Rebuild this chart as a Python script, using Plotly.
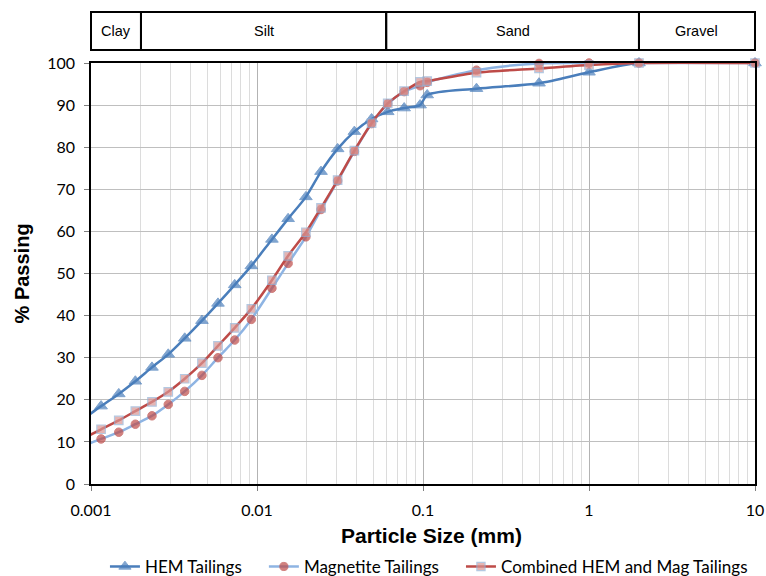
import math
import plotly.graph_objects as go

# ---------------- data ----------------
size_mm = [0.00091, 0.00115, 0.00147, 0.00185, 0.00233, 0.00292, 0.00367, 0.00466,
           0.00582, 0.00734, 0.00924, 0.0123, 0.0154, 0.0197, 0.0243, 0.0306,
           0.0386, 0.049, 0.0613, 0.077, 0.096, 0.106, 0.21, 0.5, 1.0, 2.0, 10.0]

hem_tailings = [15.6, 18.5, 21.4, 24.4, 27.7, 30.8, 34.6, 38.8, 42.9, 47.3, 51.8,
                58.1, 63.0, 68.2, 74.2, 79.6, 83.7, 86.7, 88.4, 89.3, 90.0, 92.4,
                93.9, 95.2, 97.8, 100, 100]

magnetite_tailings = [9.1, 10.7, 12.3, 14.2, 16.2, 18.9, 22.0, 25.8, 30.0, 34.2, 39.1,
                      46.5, 52.4, 58.7, 65.2, 72.0, 79.0, 85.6, 90.3, 93.2, 94.6, 95.4,
                      98.3, 99.9, 100, 100, 100]

combined_tailings = [10.9, 13.0, 15.1, 17.3, 19.5, 21.9, 25.0, 28.7, 32.8, 37.1, 41.6,
                     48.4, 54.2, 59.8, 65.6, 72.2, 79.2, 85.7, 90.4, 93.3, 95.5, 95.7,
                     97.7, 98.7, 99.5, 100, 100]

series_names = ["HEM Tailings", "Magnetite Tailings", "Combined HEM and Mag Tailings"]

band_edges = [0.001, 0.002, 0.06, 2.0, 10.0]
band_labels = ["Clay", "Silt", "Sand", "Gravel"]

x_tick_vals = [0.001, 0.01, 0.1, 1, 10]
x_tick_text = ["0.001", "0.01", "0.1", "1", "10"]
y_tick_vals = list(range(0, 101, 10))

X_MIN, X_MAX = 0.001, 10.0

# ---------------- figure ----------------
def msizes(sz):
    return [0 if d < X_MIN else sz for d in size_mm]

PAD = "\u2003\u00a0"  # extra gap between legend entries

fig = go.Figure()

fig.add_trace(go.Scatter(
    x=size_mm, y=hem_tailings, name=series_names[0] + PAD, mode="lines+markers",
    line=dict(color="#4A7EBB", width=2.5, shape="spline", smoothing=0.8),
    marker=dict(symbol="triangle-up", size=msizes(11), color="#4A7EBB",
                line=dict(color="#4A7EBB", width=1)),
    cliponaxis=False))

fig.add_trace(go.Scatter(
    x=size_mm, y=magnetite_tailings, name=series_names[1] + PAD, mode="lines+markers",
    line=dict(color="#8EB4E3", width=2.5, shape="spline", smoothing=0.8),
    marker=dict(symbol="circle", size=msizes(8.5), color="#BE4B48",
                line=dict(color="#BE4B48", width=1)),
    cliponaxis=False))

fig.add_trace(go.Scatter(
    x=size_mm, y=combined_tailings, name=series_names[2], mode="lines+markers",
    line=dict(color="#BE4B48", width=2.5, shape="spline", smoothing=0.8),
    marker=dict(symbol="square", size=msizes(8.5), color="#D99694",
                line=dict(color="#95B3D7", width=1.2)),
    cliponaxis=False))

minor_vals = [k * 10.0 ** e for e in range(-3, 1) for k in range(2, 10)]

fig.update_xaxes(
    type="log", range=[math.log10(X_MIN), math.log10(X_MAX)],
    tickmode="array", tickvals=x_tick_vals, ticktext=x_tick_text,
    showgrid=True, gridcolor="#B3B3B3", gridwidth=1,
    minor=dict(tickmode="array", tickvals=minor_vals, showgrid=True,
               gridcolor="#DCDCDC", gridwidth=1, ticks=""),
    showline=True, linecolor="#000000", linewidth=1.5, mirror=True,
    ticks="outside", ticklen=5, tickcolor="#7F7F7F",
    ticklabelstandoff=6, automargin=False,
    tickfont=dict(family="Lato", size=16, color="#000000"),
    zeroline=False)

fig.update_yaxes(
    range=[0, 100], tickmode="array", tickvals=y_tick_vals,
    showgrid=True, gridcolor="#BFBFBF", gridwidth=1,
    showline=True, linecolor="#000000", linewidth=1.5, mirror=True,
    ticks="outside", ticklen=5, tickcolor="#7F7F7F",
    ticklabelstandoff=6, automargin=False,
    tickfont=dict(family="Lato", size=16, color="#000000"),
    zeroline=False)

# soil classification band above the plot
def frac(v):
    return (math.log10(v) - math.log10(X_MIN)) / (math.log10(X_MAX) - math.log10(X_MIN))

band_y0, band_y1 = 1.031, 1.121
shapes = []
annotations = []
for i, lab in enumerate(band_labels):
    x0, x1 = frac(band_edges[i]), frac(band_edges[i + 1])
    shapes.append(dict(type="rect", xref="paper", yref="paper",
                       x0=x0, x1=x1, y0=band_y0, y1=band_y1,
                       line=dict(color="#000000", width=2), fillcolor="rgba(0,0,0,0)"))
    annotations.append(dict(xref="paper", yref="paper", x=(x0 + x1) / 2,
                            y=(band_y0 + band_y1) / 2, text=lab, showarrow=False,
                            xanchor="center", yanchor="middle",
                            font=dict(family="Liberation Sans", size=14.5, color="#000000")))

annotations.append(dict(xref="paper", yref="paper", x=-0.104, y=0.5, text="<b>% Passing</b>",
                        textangle=-90, showarrow=False, xanchor="center", yanchor="middle",
                        font=dict(family="Liberation Sans", size=20, color="#000000")))
annotations.append(dict(xref="paper", yref="paper", x=0.513, y=-0.1235,
                        text="<b>Particle Size (mm)</b>", showarrow=False,
                        xanchor="center", yanchor="middle",
                        font=dict(family="Liberation Sans", size=21, color="#000000")))

fig.update_layout(
    width=766, height=576,
    margin=dict(l=91, r=11, t=63, b=92, autoexpand=False),
    paper_bgcolor="#FFFFFF", plot_bgcolor="#FFFFFF",
    shapes=shapes, annotations=annotations,
    showlegend=True,
    legend=dict(orientation="h", x=0.021, xanchor="left", y=-0.197, yanchor="middle",
                font=dict(family="Lato", size=17, color="#000000"),
                bgcolor="rgba(0,0,0,0)", tracegroupgap=0),
)

fig.write_html("out.html")
